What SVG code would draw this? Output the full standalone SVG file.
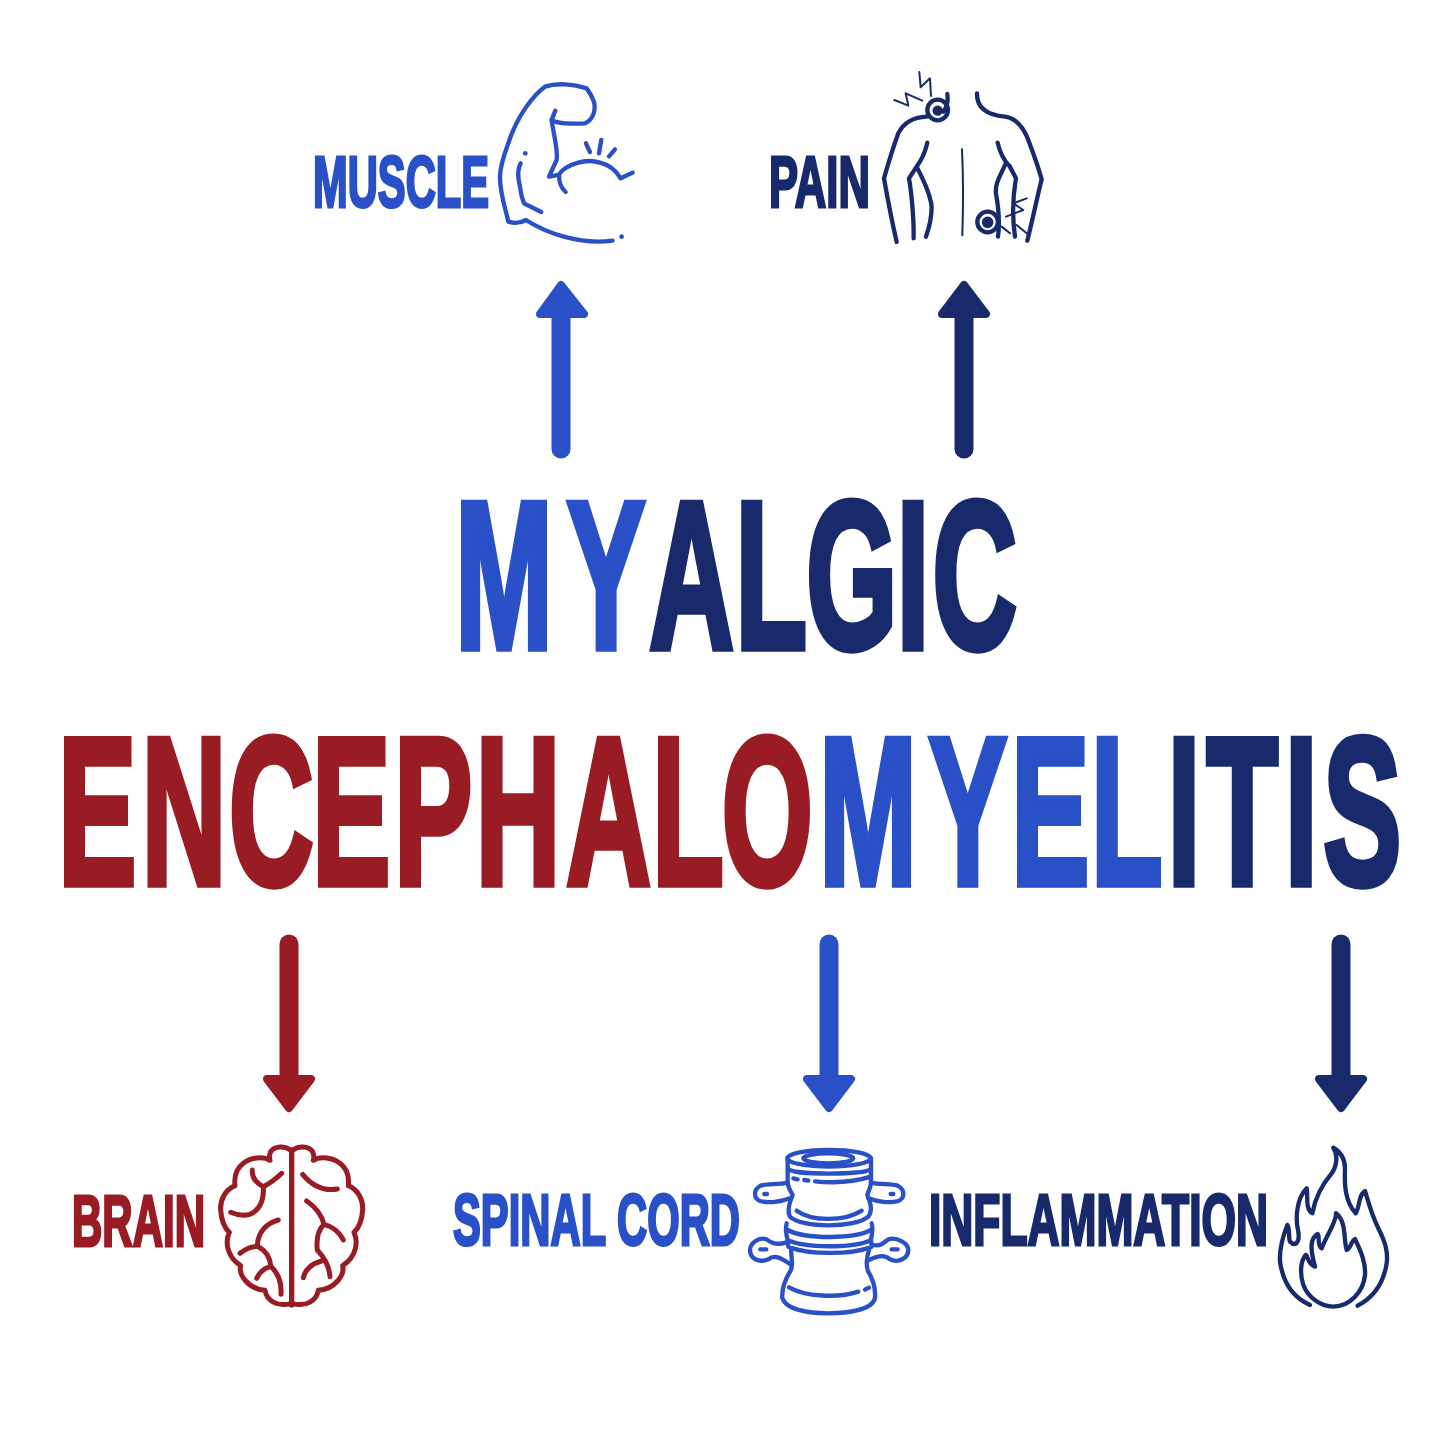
<svg xmlns="http://www.w3.org/2000/svg" xmlns:xlink="http://www.w3.org/1999/xlink" width="1456" height="1456" viewBox="0 0 1456 1456">
<style>
text{font-family:"Liberation Sans",Arial,sans-serif;font-weight:700;}
.big{font-size:209px;stroke-width:6px;vector-effect:non-scaling-stroke;}
.sm{font-size:72px;stroke-width:2.5px;vector-effect:non-scaling-stroke;}
.b{fill:#2a50c8;stroke:#2a50c8;} .n{fill:#182a6b;stroke:#182a6b;} .r{fill:#991c24;stroke:#991c24;}
.ic{fill:none;stroke-width:13;stroke-linecap:round;stroke-linejoin:round;}
.ib{stroke:#2a50c8;} .in{stroke:#182a6b;} .ir{stroke:#991c24;}
.sh{stroke-width:19;stroke-linecap:round;fill:none;}
.hd{stroke-width:8;stroke-linejoin:round;}
</style>
<rect width="1456" height="1456" fill="#fff"/>
<g id="title">
<text class="big b" transform="scale(.56 1)" y="647.7" x="812.9 1012.5">MY</text>
<text class="big n" transform="scale(.56 1)" y="647.7" x="1159.5 1313.6 1439.6 1601.4 1665">ALGIC</text>
<text class="big r" transform="scale(.56 1)" y="883.7" x="104.1 253.2 409 557.6 704.2 849.6 1011.4 1164.6 1289">ENCEPHALO</text>
<text class="big b" transform="scale(.56 1)" y="883.7" x="1463.1 1658.7 1805.8 1948">MYEL</text>
<text class="big n" transform="scale(.56 1)" y="883.7" x="2085.5 2154.6 2294.6 2363">ITIS</text>
</g>
<g id="connectors">
<g class="b"><path class="sh" fill="none" d="M561 449V312"/><path class="hd" d="M561 285L584 314H540Z"/></g>
<g class="n"><path class="sh" fill="none" d="M964 449V312"/><path class="hd" d="M964 285L986 314H942Z"/></g>
<g class="r"><path class="sh" fill="none" d="M289 944V1082"/><path class="hd" d="M289 1108L311 1079H267Z"/></g>
<g class="b"><path class="sh" fill="none" d="M829 944V1082"/><path class="hd" d="M829 1108L851 1079H807Z"/></g>
<g class="n"><path class="sh" fill="none" d="M1341 944V1082"/><path class="hd" d="M1341 1108L1363 1079H1319Z"/></g>
</g>
<g id="muscle">
<text class="sm b" transform="scale(.6 1)" x="521.7" y="207" textLength="293.3" lengthAdjust="spacingAndGlyphs">MUSCLE</text>
<g class="ic ib" transform="translate(300 60) scale(.3333)">
<path d="M766 152L755 180C770 192 810 192 855 190C880 180 888 150 882 125C875 105 860 85 860 85C820 72 770 68 735 80C700 105 650 170 625 250C610 290 600 320 600 350C600 400 615 440 625 485C640 490 660 490 678 480C740 520 840 555 938 542"/>
<path d="M755 180C760 220 775 270 770 300L747 350L775 345C800 310 860 295 900 308C930 315 950 335 962 355L998 338"/>
<path d="M778 345C775 365 785 385 797 396"/>
<path d="M662 310C650 330 655 360 660 380C662 400 668 420 672 430L724 456"/>
<path d="M858 250L870 276M904 240L897 280M945 268L927 289"/>
<circle cx="676" cy="280" r="7" style="fill:#2a50c8;stroke:none"/><circle cx="965" cy="530" r="7" style="fill:#2a50c8;stroke:none"/>
</g>
</g>
<g id="pain">
<text class="sm n" transform="scale(.6 1)" x="1281.7" y="207" textLength="168.3" lengthAdjust="spacingAndGlyphs">PAIN</text>
<g class="ic in" transform="translate(760 60) scale(.3333)">
<path d="M410 546C395 480 380 400 372 355C385 310 400 260 415 220C430 190 455 172 500 170"/>
<path d="M651 100C650 140 675 165 735 170C770 175 790 200 805 240C820 280 835 320 845 358C830 420 815 490 802 542"/>
<path d="M502 248C495 280 485 300 470 320L447 355C455 400 462 480 461 535M470 320C490 360 510 400 515 440C515 480 505 510 498 530"/>
<path d="M606 268C610 350 610 440 607 526" style="stroke-width:6"/>
<path d="M713 248C720 280 735 305 750 320L768 355C760 400 755 460 765 530M735 315C720 350 705 370 708 400C715 440 720 490 714 530"/>
<circle cx="533" cy="150" r="31"/><circle cx="683" cy="486" r="31"/>
<circle cx="533" cy="152" r="9" style="fill:#182a6b"/><circle cx="683" cy="487" r="11" style="fill:#182a6b"/>
<path d="M562 102C565 120 562 140 550 155"/>
<path style="stroke-width:6" d="M478 36L482 82L510 55L513 108M403 120L445 137L437 100L487 122M800 415L760 430L790 450L738 470M725 500L750 520M800 520L770 495"/>
</g>
</g>
<g id="brain">
<text class="sm r" transform="scale(.6 1)" x="120" y="1246" textLength="221.7" lengthAdjust="spacingAndGlyphs">BRAIN</text>
<g class="ic ir" transform="translate(210 1135) scale(.3333)" style="stroke-width:15">
<path id="bh" d="M245 48C225 32 195 32 182 50C178 60 178 70 180 76C160 62 120 68 100 85C80 100 72 125 75 152C45 165 30 195 32 225C34 255 45 280 58 292C45 320 50 365 92 392C85 420 115 462 165 466C170 495 200 518 245 505"/>
<use href="#bh" xlink:href="#bh" transform="translate(490 0) scale(-1 1)"/>
<path d="M245 45V510" style="stroke-width:16"/>
<path d="M127 105C125 130 140 145 160 155C180 145 200 130 215 115M160 155C162 195 150 225 120 238C100 243 80 240 62 232M205 255C170 265 145 290 142 330M90 355C110 340 130 332 145 335C165 345 180 365 183 395M140 430C150 410 165 398 183 395C205 415 215 445 213 478"/>
<path d="M278 118C300 145 335 170 382 162M290 198C315 215 335 240 342 268C370 275 390 295 400 315M342 268C325 285 318 310 322 345C345 370 358 395 360 425M280 428C285 405 305 385 335 378"/>
</g>
</g>
<g id="spinal-cord">
<text class="sm b" transform="scale(.6 1)" x="755" y="1245" textLength="478.3" lengthAdjust="spacingAndGlyphs">SPINAL CORD</text>
<g class="ic ib" transform="translate(745 1140) scale(.3333)">
<ellipse cx="252" cy="55" rx="125" ry="25"/><ellipse cx="250" cy="55" rx="75" ry="15"/>
<path d="M128 55V125C128 140 140 160 143 165C135 185 125 210 135 230C170 265 330 265 370 230C385 210 375 185 367 165C370 155 378 140 378 125V55"/>
<path d="M132 88C150 105 355 105 376 88M145 115L158 118M178 120L190 122M210 124C270 130 330 125 378 110M155 212C200 245 300 245 350 212"/>
<path d="M128 128C100 135 60 130 45 138C25 150 25 175 45 183C70 190 110 185 135 175M378 128C405 135 445 130 460 138C480 150 480 175 460 183C435 190 395 185 370 175"/>
<path d="M125 250C120 270 125 290 128 300C180 325 330 325 378 300C382 280 385 265 380 250M128 270C180 298 330 298 378 270M128 300L130 320C190 345 320 345 380 320L378 300"/>
<path d="M138 330C140 360 145 380 135 395C120 420 110 450 112 475C125 510 190 520 250 520C310 520 380 510 390 475C392 450 385 420 370 395C362 380 365 350 372 330"/>
<path d="M132 442C180 470 280 475 340 455M360 449L372 443"/>
<path d="M122 308C100 315 80 310 65 298C40 290 15 310 15 330C15 355 40 370 70 358C85 345 100 348 135 372M385 315C405 320 415 310 430 298C455 290 490 310 490 330C490 355 460 370 435 358C420 345 405 345 372 360"/>
<path d="M58 162H66M437 162H445M46 328H64M440 328H458"/>
</g>
</g>
<g id="inflammation">
<text class="sm n" transform="scale(.6 1)" x="1548.3" y="1245" textLength="565" lengthAdjust="spacingAndGlyphs">INFLAMMATION</text>
<g class="ic in" transform="translate(1265 1135) scale(.3333)">
<path d="M135 510C90 490 55 450 45 380C43 340 55 300 67 270C75 280 70 310 75 320C90 335 105 325 100 290C90 250 95 190 125 160C130 190 120 220 142 235C150 190 170 150 200 115C215 95 220 60 205 38C225 50 240 70 240 100C238 150 240 200 272 235C285 215 280 180 300 168C310 200 320 240 340 280C360 320 370 350 365 385C355 450 320 490 278 512"/>
<path d="M213 235C215 260 190 290 170 340C155 330 165 300 158 297C135 310 135 340 150 395C125 385 130 360 122 360C105 380 105 420 115 450C130 490 170 515 205 515C255 515 295 470 300 420C303 380 285 345 270 312C260 315 255 345 245 345C235 310 245 260 213 235Z"/>
</g>
</g>
</svg>
